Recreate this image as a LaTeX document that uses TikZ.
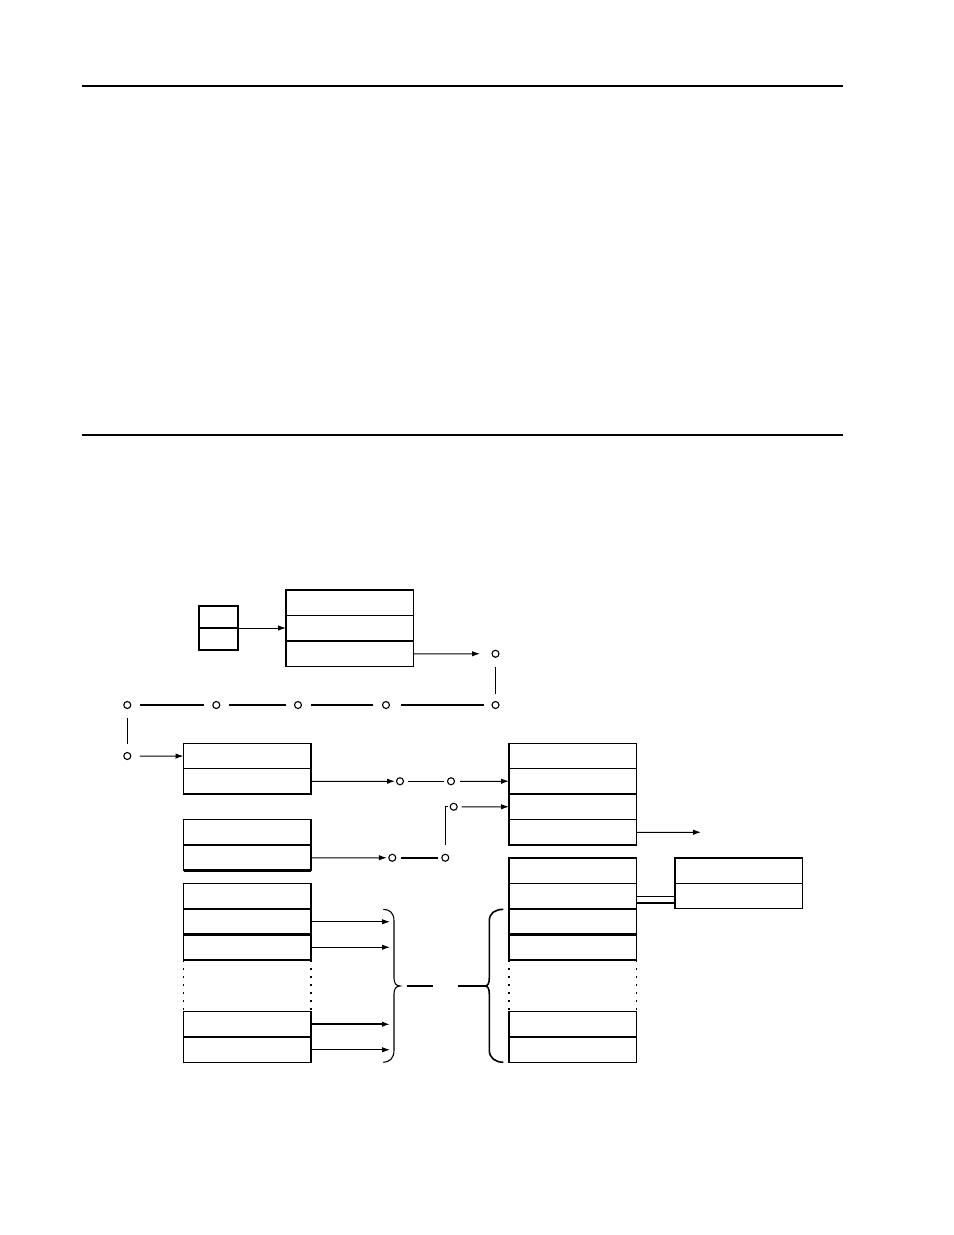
\documentclass[tikz,border=0pt]{standalone}
\usetikzlibrary{arrows.meta}
\begin{document}
\begin{tikzpicture}[x=1bp,y=-1bp,
  cell/.style={draw,line width=1.1bp,minimum width=127.5bp,minimum height=25.5bp,inner sep=0pt,outer sep=0pt,anchor=north west},
  scell/.style={draw,line width=1.1bp,minimum width=39bp,minimum height=22bp,inner sep=0pt,outer sep=0pt,anchor=north west},
  dot/.style={circle,draw,line width=1.1bp,minimum size=7bp,inner sep=0pt,outer sep=0pt},
  arr/.style={line width=1bp,-{Latex[length=8bp,width=5.5bp]}},
  ln/.style={line width=1bp},
  thk/.style={line width=2.2bp},
  dotside/.style={line width=1.1bp,dash pattern=on 2bp off 6bp}]
\useasboundingbox (0,0) rectangle (954,1235);
% rules
\draw[line width=2bp] (82,85.7) -- (843.3,85.7);
\draw[line width=1.2bp] (82,435) -- (843.3,435);
% small box
\node[scell] (S1) at (199,606) {};
\node[scell] (S2) at (199,628) {};
\draw[thk] (S1.north west) -- (S2.south west);
% box A
\node[cell] (A1) at (286,590) {};
\node[cell] (A2) at (286,615.5) {};
\node[cell] (A3) at (286,641) {};
\draw[thk] (A1.north west) -- (A1.north east);
% box B
\node[cell] (B1) at (183.5,743.3) {};
\node[cell] (B2) at (183.5,768.5) {};
\draw[line width=1.8bp] (B1.north west) -- (B2.south west);
% box D
\node[cell] (D1) at (183.5,819.5) {};
\node[cell] (D2) at (183.5,845) {};
\draw[thk] (D2.south west) -- (D2.south east);
\draw[line width=1.8bp] (D1.north west) -- (D2.south west);
% box C
\node[cell] (C1) at (509,743.3) {};
\node[cell] (C2) at (509,768.5) {};
\node[cell] (C3) at (509,794) {};
\node[cell] (C4) at (509,819.5) {};
% box E
\node[cell] (E1) at (509,858) {};
\node[cell] (E2) at (509,883.3) {};
\node[cell] (E3) at (509,909) {};
\node[cell] (E4) at (509,934.5) {};
\node[cell] (E5) at (509,1011.5) {};
\node[cell] (E6) at (509,1037) {};
\draw[thk] (E4.north west) -- (E4.north east);
\draw[thk] (E6.north west) -- (E6.north east);
\draw[dotside] (E4.south west) -- (E5.north west);
\draw[dotside] (E4.south east) -- (E5.north east);
% box F
\node[cell] (F1) at (183.5,883.5) {};
\node[cell] (F2) at (183.5,909) {};
\node[cell] (F3) at (183.5,934.5) {};
\node[cell] (F4) at (183.5,1011.5) {};
\node[cell] (F5) at (183.5,1037) {};
\draw[thk] (F3.north west) -- (F3.north east);
\draw[thk] (F5.north west) -- (F5.north east);
\draw[line width=1.8bp] (F1.north west) -- (F3.south west);
\draw[line width=1.8bp] (F4.north west) -- (F5.south west);
\draw[dotside] (F3.south west) -- (F4.north west);
\draw[dotside] (F3.south east) -- (F4.north east);
% box G
\node[cell] (G1) at (675,858) {};
\node[cell] (G2) at (675,883.3) {};
\draw[thk] (G1.north west) -- (G2.south west);
% circles
\node[dot] (p1) at (495.5,653.75) {};
\node[dot] (p2) at (495.5,705) {};
\node[dot] (p3) at (386,705) {};
\node[dot] (p4) at (298,705) {};
\node[dot] (p5) at (216.3,705) {};
\node[dot] (p6) at (127.3,705) {};
\node[dot] (p7) at (127.3,756) {};
\node[dot] (q1) at (400,781.25) {};
\node[dot] (q2) at (451,781.25) {};
\node[dot] (q3) at (453.7,806.75) {};
\node[dot] (r1) at (392.3,857.75) {};
\node[dot] (r2) at (445.3,857.75) {};
\coordinate (cend) at (701,832.25);
\coordinate (bl) at (390,0);
% connectors top
\draw[arr] (S1.south east) -- (S1.south east -| A2.west);
\draw[arr,shorten >=12bp] (A3.east) -- (p1);
\draw[ln,shorten <=10bp,shorten >=8bp] (p1) -- (p2);
\draw[thk,shorten <=8.5bp,shorten >=11.5bp] (p2) -- (p3);
\draw[thk,shorten <=10bp,shorten >=9bp] (p3) -- (p4);
\draw[thk,shorten <=9bp,shorten >=9bp] (p4) -- (p5);
\draw[thk,shorten <=9bp,shorten >=9bp] (p5) -- (p6);
\draw[ln,shorten <=9bp,shorten >=9bp] (p6) -- (p7);
\draw[arr,shorten <=9bp] (p7) -- (B1.west);
% middle
\draw[arr,shorten >=1.5bp] (B2.east) -- (q1);
\draw[ln,shorten <=4.5bp,shorten >=4bp] (q1) -- (q2);
\draw[arr,shorten <=5.5bp] (q2) -- (C2.west);
\draw[arr,shorten <=4.5bp] (q3) -- (C3.west);
\draw[arr,shorten >=2bp] (D2.east) -- (r1);
\draw[thk,shorten <=5bp,shorten >=3.5bp] (r1) -- (r2);
\draw[ln] (r2) ++(0,-12.5) |- ([xshift=-6.2bp]q3.center);
\draw[arr] (C4.east) -- (cend);
% double line to G
\draw[ln] (E2.east) -- (E2.east -| G2.west);
\draw[line width=2bp] ([yshift=-6.7bp]E2.east) -- ([yshift=-6.7bp]E2.east -| G2.west);
% arrows to brace
\draw[arr] (F2.east) -- (F2.east -| bl);
\draw[arr] (F3.east) -- (F3.east -| bl);
\draw[arr,line width=1.6bp] (F4.east) -- (F4.east -| bl);
\draw[arr] (F5.east) -- (F5.east -| bl);
% braces
\draw[line width=1.1bp] (383.3,909.3) .. controls (390,909.5) and (394,913) .. (394,921) -- (394,978) .. controls (394,983) and (396,986) .. (400,986) .. controls (396,986) and (394,989) .. (394,994) -- (394,1050) .. controls (394,1058) and (390,1062) .. (383.3,1062.3);
\draw[line width=1.6bp] (503.3,909.3) .. controls (495,909.5) and (489.3,913) .. (489.3,921) -- (489.3,978) .. controls (489.3,983) and (488,986) .. (485,986) .. controls (488,986) and (489.3,989) .. (489.3,994) -- (489.3,1050) .. controls (489.3,1058) and (495,1062) .. (503.3,1062.3);
\draw[thk] (406.7,986) -- (432.7,986);
\draw[thk] (458.3,986) -- (485,986);
\end{tikzpicture}
\end{document}
